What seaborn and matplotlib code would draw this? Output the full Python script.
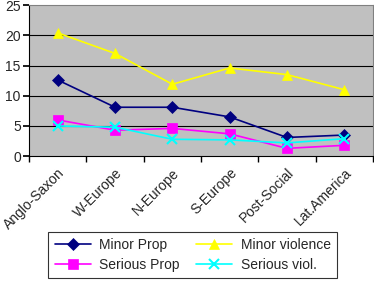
import matplotlib
matplotlib.use("Agg")
import matplotlib.pyplot as plt
import pandas as pd
import numpy as np
import seaborn as sns

regions = ['Anglo-Saxon', 'W-Europe', 'N-Europe', 'S-Europe', 'Post-Social', 'Lat.America']
minor_prop = [12.6, 8.1, 8.1, 6.5, 3.1, 3.5]
minor_violence = [20.4, 17.0, 11.9, 14.6, 13.5, 11.0]
serious_prop = [6.0, 4.3, 4.6, 3.7, 1.3, 1.8]
serious_viol = [5.0, 4.8, 2.8, 2.7, 2.2, 2.9]

series_names = ['Minor Prop', 'Serious Prop', 'Minor violence', 'Serious viol.']
series_values = [minor_prop, serious_prop, minor_violence, serious_viol]
colors = ['#000080', '#FF00FF', '#FFFF00', '#00FFFF']
markers = ['D', 's', '^', 'x']

rows = []
for name, vals in zip(series_names, series_values):
    for i, v in enumerate(vals):
        rows.append({'Series': name, 'pos': i, 'Value': v})
df = pd.DataFrame(rows)

sns.set_theme(style="white")
plt.rcParams['font.family'] = ['Liberation Sans', 'DejaVu Sans']

fig = plt.figure(figsize=(3.74, 2.84), dpi=100)
ax = fig.add_axes([0.078, 0.45, 0.919, 0.532])
ax.set_facecolor('#C0C0C0')

for name, col, mk in zip(series_names, colors, markers):
    sub = df[df['Series'] == name]
    sns.lineplot(data=sub, x='pos', y='Value', ax=ax, color=col, marker=mk,
                 markersize=6.5, markeredgecolor=col,
                 markeredgewidth=1.5 if mk == 'x' else 0.5, linewidth=1.2,
                 label=name)

ax.set_xlim(-0.5, len(regions) - 0.5)
ax.set_ylim(0, 25)
ax.set_yticks([0, 5, 10, 15, 20, 25])
for y in [5, 10, 15, 20]:
    ax.axhline(y, color='#000000', linewidth=0.8, zorder=0)
ax.set_xticks(range(len(regions)))
ax.set_xticklabels(regions, rotation=45, ha='right', rotation_mode='anchor', fontsize=10)
ax.set_xticks(np.arange(-0.5, len(regions), 1.0), minor=True)
ax.tick_params(axis='x', which='major', length=0, pad=7)
ax.tick_params(axis='x', which='minor', length=4, color='black', direction='out', bottom=True)
ax.tick_params(axis='y', labelsize=10, length=4, color='black', direction='out', left=True, pad=2)
ax.set_xlabel('')
ax.set_ylabel('')
for s in ax.spines.values():
    s.set_color('#808080')
    s.set_linewidth(0.8)
ax.spines['bottom'].set_color('black')
ax.spines['left'].set_color('black')

handles, labels = ax.get_legend_handles_labels()
leg = fig.legend(handles, labels,
                 loc='lower center', bbox_to_anchor=(0.515, -0.005), ncol=2,
                 fontsize=10, frameon=True, fancybox=False, edgecolor='black',
                 handlelength=2.6, handletextpad=0.6, columnspacing=1.2,
                 borderpad=0.45, labelspacing=0.45)
leg.get_frame().set_linewidth(0.8)
ax.get_legend().remove()

fig.savefig('out.png', dpi=100)
